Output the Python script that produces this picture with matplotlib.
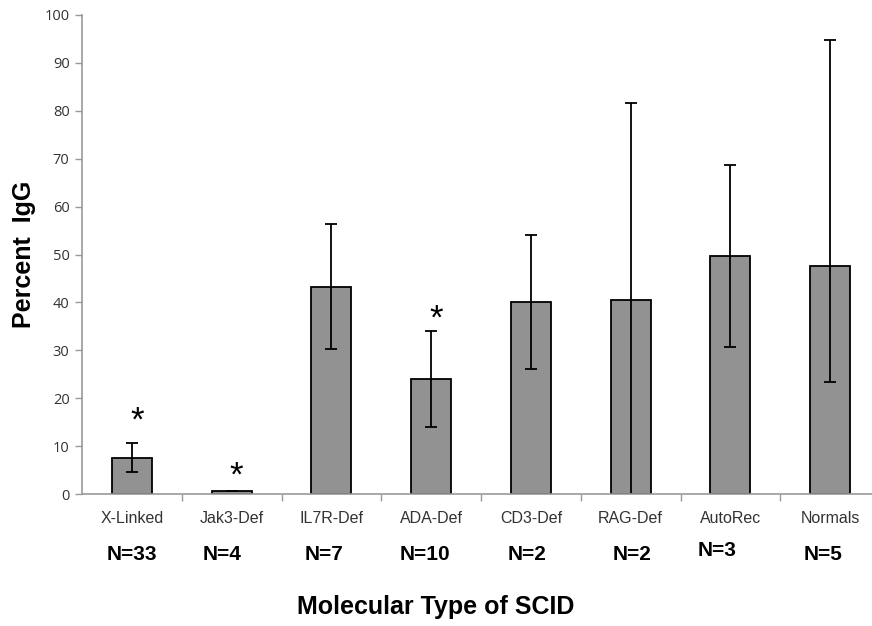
import matplotlib
matplotlib.use("Agg")
import matplotlib.pyplot as plt
import numpy as np

categories = ["X-Linked", "Jak3-Def", "IL7R-Def", "ADA-Def", "CD3-Def", "RAG-Def", "AutoRec", "Normals"]
means = [7.6, 0.7, 43.3, 24.0, 40.0, 40.5, 49.6, 47.6]
err_lower = [3.1, 0.0, 13.0, 10.0, 14.0, 41.1, 19.0, 24.2]
err_upper = [3.0, 0.0, 13.1, 10.0, 14.1, 41.1, 19.1, 47.2]
n_labels = ["N=33", "N=4", "N=7", "N=10", "N=2", "N=2", "N=3", "N=5"]
starred = ["X-Linked", "Jak3-Def", "ADA-Def"]
star_heights = [16.5, 5.0, 37.8]

W, H = 872, 626
fig = plt.figure(figsize=(W / 100, H / 100), dpi=100)
plt.rcParams['font.family'] = ['Liberation Sans', 'DejaVu Sans']

left_px, bottom_px, top_px, slot_px = 82, 494, 15, 99.75
ax = fig.add_axes([left_px / W, (H - bottom_px) / H,
                   len(categories) * slot_px / W, (bottom_px - top_px) / H])

x = np.arange(len(categories))
ax.bar(x, means, width=0.4, color="#929292", edgecolor="black", linewidth=1.3, zorder=2)
ax.errorbar(x, means, yerr=[err_lower, err_upper], fmt="none", ecolor="black", elinewidth=1.3,
            capsize=4.5, capthick=1.3, zorder=3)

ax.set_xlim(-0.5, len(categories) - 0.5)
ax.set_ylim(0, 100)
ax.set_yticks(np.arange(0, 101, 10))
ax.set_yticklabels([str(v) for v in range(0, 101, 10)], family=["Open Sans", "DejaVu Sans"],
                   fontsize=10.5, color="#333333")

ax.set_xticks(x)
ax.set_xticklabels(categories, fontsize=11.5, color="#333333")
ax.set_xticks(np.arange(0.5, len(categories) - 0.5, 1), minor=True)
ax.tick_params(axis="x", which="major", length=0, pad=12)
ax.tick_params(axis="x", which="minor", length=5, width=1, color="#999999", direction="out")
ax.tick_params(axis="y", length=5, width=1, color="#999999", direction="out", pad=4)

for side in ["top", "right"]:
    ax.spines[side].set_visible(False)
for side in ["left", "bottom"]:
    ax.spines[side].set_color("#999999")
    ax.spines[side].set_linewidth(1.2)
    ax.spines[side].set_zorder(4)

# asterisks
for cat, h in zip(starred, star_heights):
    i = categories.index(cat)
    ax.text(i + 0.05, h - 1.2, "*", ha="center", va="center", fontsize=25)

# N labels
n_offsets = [0.0, -0.1, -0.07, -0.06, -0.04, 0.01, -0.13, -0.07]
n_y = [-0.127, -0.127, -0.127, -0.127, -0.127, -0.127, -0.117, -0.127]
trans = matplotlib.transforms.blended_transform_factory(ax.transData, ax.transAxes)
for i, (lab, off, yy) in enumerate(zip(n_labels, n_offsets, n_y)):
    ax.text(i + off, yy, lab, transform=trans, ha="center", va="center",
            fontsize=15, fontweight="bold")

fig.text(436 / W, 1 - 607 / H, "Molecular Type of SCID", ha="center", va="center",
         fontsize=18, fontweight="bold")
fig.text(24 / W, 1 - 254 / H, "Percent  IgG", ha="center", va="center", rotation=90,
         fontsize=18, fontweight="bold")

fig.savefig("out.png", dpi=100)
